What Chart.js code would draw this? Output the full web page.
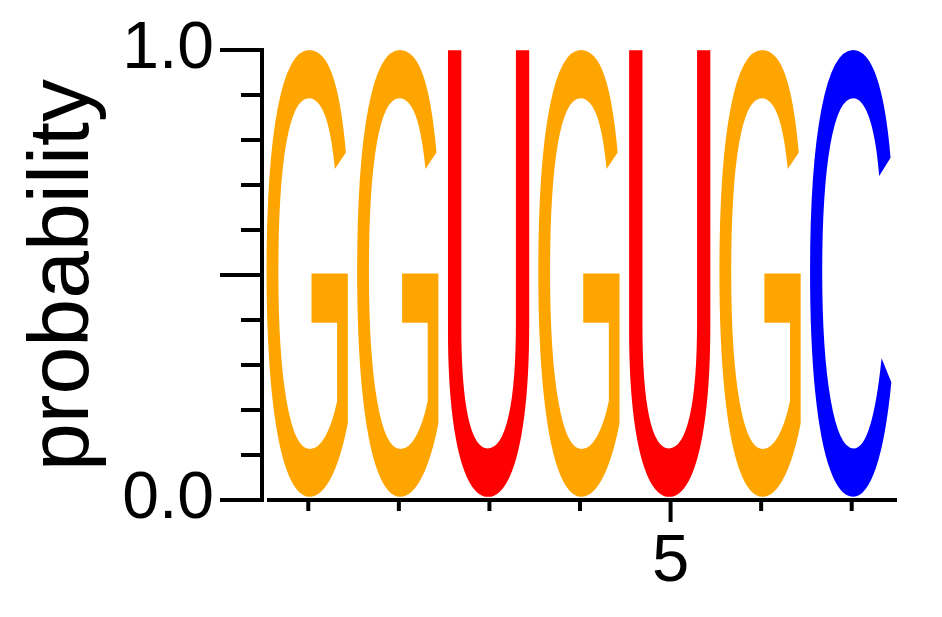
<!DOCTYPE html>
<html>
<head>
<meta charset="utf-8">
<script src="https://cdn.jsdelivr.net/npm/chart.js@4.4.1/dist/chart.umd.min.js"></script>
<style>
  html, body { margin: 0; padding: 0; background: #fff; }
  #wrap { width: 942px; height: 617px; }
</style>
</head>
<body>
<div id="wrap"><canvas id="logo"></canvas></div>
<script>
// positions along the motif
const positions = ["1", "2", "3", "4", "5", "6", "7"];

// probability of each base at each position
const probA = [0, 0, 0, 0, 0, 0, 0];
const probC = [0, 0, 0, 0, 0, 0, 1];
const probG = [1, 1, 0, 1, 0, 1, 0];
const probU = [0, 0, 1, 0, 1, 0, 0];

const yTicksShown = [0, 0.5, 1];
const xTicksShown = ["5"];

const warna = { A: "#00A000", C: "#0000FF", G: "#FFA500", U: "#FF0000" };

// draw each letter stretched into its bar box
const hurufPlugin = {
    id: "huruf",
    afterDatasetsDraw(chart) {
        const ctx = chart.ctx;
        chart.data.datasets.forEach((ds, i) => {
            const meta = chart.getDatasetMeta(i);
            meta.data.forEach((bar, j) => {
                if (!ds.data[j]) return;
                const p = bar.getProps(["x", "y", "base", "width"], true);
                const top = Math.min(p.y, p.base) - 1;
                const bottom = Math.max(p.y, p.base) - 3;
                const left = p.x - p.width / 2 - 1;
                const w = p.width;
                const h = bottom - top;

                ctx.save();
                ctx.font = '200px "Liberation Sans"';
                ctx.textAlign = "left";
                ctx.textBaseline = "alphabetic";
                const m = ctx.measureText(ds.label);
                const gw = m.actualBoundingBoxLeft + m.actualBoundingBoxRight;
                const gh = m.actualBoundingBoxAscent + m.actualBoundingBoxDescent;
                ctx.translate(left, top);
                ctx.scale(w / gw, h / gh);
                ctx.fillStyle = warna[ds.label];
                ctx.fillText(ds.label, m.actualBoundingBoxLeft, m.actualBoundingBoxAscent);
                ctx.restore();
            });
        });
    }
};

// axis lines and ticks (major + minor)
const sumbuPlugin = {
    id: "sumbu",
    afterDraw(chart) {
        const ctx = chart.ctx;
        const a = chart.chartArea;
        const xs = chart.scales.x;
        const ys = chart.scales.y;

        ctx.save();
        ctx.strokeStyle = "#000";
        ctx.lineWidth = 4;
        ctx.lineCap = "butt";

        // y axis
        const yx = a.left - 1;
        ctx.beginPath();
        ctx.moveTo(yx, ys.getPixelForValue(1) - 2);
        ctx.lineTo(yx, ys.getPixelForValue(0) + 2);
        ctx.stroke();

        // y ticks
        for (let k = 0; k <= 10; k++) {
            const v = k / 10;
            const py = ys.getPixelForValue(v);
            const major = yTicksShown.some(t => Math.abs(t - v) < 1e-9);
            ctx.beginPath();
            ctx.moveTo(yx, py);
            ctx.lineTo(yx - (major ? 42 : 21), py);
            ctx.stroke();
        }

        // x axis
        const xy = ys.getPixelForValue(0);
        ctx.beginPath();
        ctx.moveTo(a.left + 4, xy);
        ctx.lineTo(a.right, xy);
        ctx.stroke();

        // x ticks
        positions.forEach((pos, j) => {
            const px = xs.getPixelForValue(j);
            const major = xTicksShown.includes(pos);
            ctx.beginPath();
            ctx.moveTo(px, xy + 2);
            ctx.lineTo(px, xy + (major ? 22 : 11));
            ctx.stroke();
        });
        ctx.restore();
    }
};

new Chart(document.getElementById("logo"), {
    type: "bar",
    data: {
        labels: positions,
        datasets: [
            { label: "A", data: probA },
            { label: "C", data: probC },
            { label: "G", data: probG },
            { label: "U", data: probU }
        ].map(d => Object.assign(d, {
            backgroundColor: "rgba(0,0,0,0)",
            borderWidth: 0,
            barPercentage: 0.9,
            categoryPercentage: 1
        }))
    },
    options: {
        responsive: true,
        maintainAspectRatio: false,
        animation: false,
        devicePixelRatio: 1,
        layout: { padding: { left: 13, top: 50, right: 45, bottom: 0 } },
        plugins: { legend: { display: false }, tooltip: { enabled: false } },
        scales: {
            x: {
                stacked: true,
                grid: { display: false, drawTicks: false },
                border: { display: false },
                ticks: {
                    color: "#000",
                    font: { family: "Liberation Sans", size: 67 },
                    padding: 22,
                    maxRotation: 0,
                    autoSkip: false,
                    callback: function(val, idx) {
                        const lbl = positions[idx];
                        return xTicksShown.includes(lbl) ? lbl : "";
                    }
                },
                afterFit(scale) {
                    scale.height = 117;
                    scale.paddingLeft = 0;
                    scale.paddingRight = 0;
                }
            },
            y: {
                stacked: true,
                min: 0,
                max: 1,
                grid: { display: false, drawTicks: false },
                border: { display: false },
                ticks: {
                    stepSize: 0.1,
                    color: "#000",
                    font: { family: "Liberation Sans", size: 66 },
                    padding: 49,
                    callback: function(val) {
                        const ok = yTicksShown.some(t => Math.abs(t - val) < 1e-9);
                        return ok ? val.toFixed(1) : "";
                    }
                },
                title: {
                    display: true,
                    text: "probability",
                    color: "#000",
                    font: { family: "Liberation Sans", size: 86 },
                    padding: 0
                },
                afterFit(scale) {
                    scale.width = 250;
                    scale.paddingTop = 0;
                    scale.paddingBottom = 0;
                }
            }
        }
    },
    plugins: [hurufPlugin, sumbuPlugin]
});
</script>
</body>
</html>
